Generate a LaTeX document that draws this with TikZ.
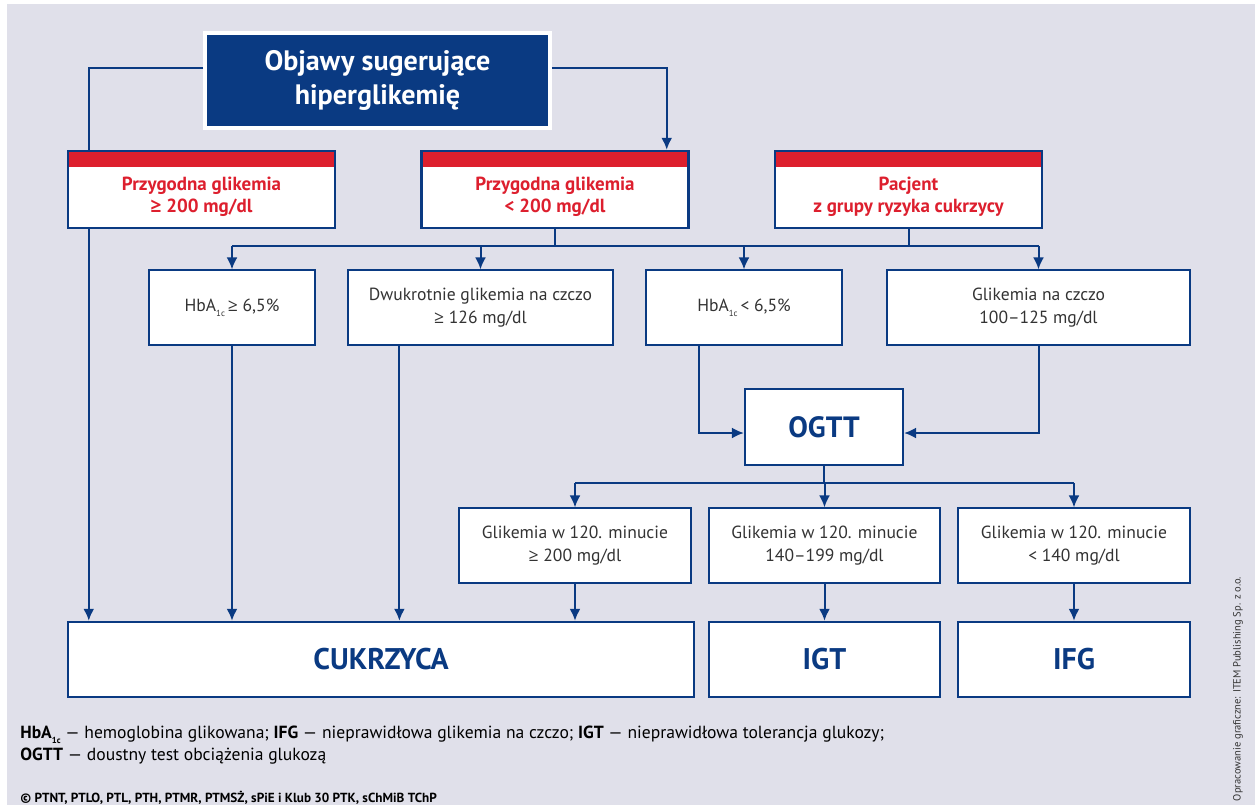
\documentclass[tikz,border=0pt]{standalone}
\usepackage{fontspec}
\setmainfont{PT Sans}
\newfontfamily\symfont{Open Sans}
\usepackage{tikz}
\usetikzlibrary{positioning}
\usetikzlibrary{arrows.meta}
\definecolor{navy}{HTML}{0A3A82}
\definecolor{alarm}{HTML}{DD1F2E}
\definecolor{panel}{HTML}{E0E0EA}
\definecolor{ink}{HTML}{333333}
\newcommand{\hba}{HbA\raisebox{-0.6ex}{\fontsize{5}{5}\selectfont 1c}}
\newcommand{\gesym}{{\symfont ≥}}
\tikzstyle{title} = [rectangle, fill=navy, draw=white, line width=0.08cm, minimum width=6.9cm, minimum height=1.9cm, text=white, align=center, font=\fontsize{16}{19.5}\selectfont\bfseries]
\tikzstyle{entry} = [rectangle, fill=white, draw=navy, line width=0.05cm, minimum width=5.34cm, minimum height=1.54cm, path picture={\fill[alarm] (path picture bounding box.north west) rectangle ([yshift=-0.32cm]path picture bounding box.north east);}]
\tikzstyle{entrytext} = [text=alarm, align=center, font=\fontsize{10.8}{12.8}\selectfont\bfseries]
\tikzstyle{test} = [rectangle, fill=white, draw=navy, line width=0.025cm, minimum height=1.5cm, text=ink, align=center, font=\fontsize{10}{12.8}\selectfont]
\tikzstyle{ogtt} = [rectangle, fill=white, draw=navy, line width=0.045cm, minimum width=3.16cm, minimum height=1.52cm, text=navy, font=\fontsize{16.7}{19}\selectfont\bfseries]
\tikzstyle{result} = [rectangle, fill=white, draw=navy, line width=0.05cm, minimum height=1.5cm, text=navy, font=\fontsize{17}{19}\selectfont\bfseries]
\tikzstyle{legend} = [anchor=west, inner sep=0pt, text=black, font=\fontsize{10}{12}\selectfont]
\tikzstyle{conn} = [navy, line width=0.04cm]
\tikzstyle{arr} = [conn, -{Latex[length=0.24cm,width=0.22cm]}]

\begin{document}
\begin{tikzpicture}[x=0.02cm, y=-0.02cm]
	\useasboundingbox (0,0) rectangle (1255,805);
	\fill [panel] (7,4) rectangle (1255,805);

	\node (title) at (377.5,80.5) [title] {Objawy sugerujące\\hiperglikemię};

	\node (p1) at (201.5,189.5) [entry] {};
	\node (p1txt) at ([yshift=-0.15cm]p1.center) [entrytext] {Przygodna glikemia\\\gesym{} 200 mg/dl};
	\node (p2) at (555,189.5) [entry] {};
	\node (p2txt) at ([yshift=-0.15cm]p2.center) [entrytext] {Przygodna glikemia\\< 200 mg/dl};
	\node (p3) at (908.5,189.5) [entry] {};
	\node (p3txt) at ([yshift=-0.15cm]p3.center) [entrytext] {Pacjent\\z grupy ryzyka cukrzycy};

	\draw [conn] ([yshift=0.25cm]title.west) -| ([xshift=0.44cm]p1.north west);
	\draw [arr] ([yshift=0.25cm]title.east) -| ([xshift=-0.46cm]p2.north east);

	\node (h1) at (232,307.5) [test, minimum width=3.32cm] {\hba\,\gesym{} 6,5\%};
	\node (h2) at (480.5,307.5) [test, minimum width=5.3cm] {Dwukrotnie glikemia na czczo\\\gesym{} 126 mg/dl};
	\node (h3) at (744,307.5) [test, minimum width=3.92cm] {\hba\,< 6,5\%};
	\node (h4) at (1038.5,307.5) [test, minimum width=6.06cm] {Glikemia na czczo\\100–125 mg/dl};

	\coordinate (bus1) at (555,246);
	\draw [conn] (p2.south) -- (bus1);
	\draw [conn] (p3.south) -- (p3.south |- bus1);
	\draw [conn] (h1.north |- bus1) -- (h4.north |- bus1);
	\draw [arr] (h1.north |- bus1) -- (h1.north);
	\draw [arr] (h2.north |- bus1) -- (h2.north);
	\draw [arr] (h3.north |- bus1) -- (h3.north);
	\draw [arr] (h4.north |- bus1) -- (h4.north);

	\node (ogtt) at (824,427) [ogtt] {OGTT};
	\draw [arr] ([xshift=1.08cm]h3.south west) |- ([yshift=-0.12cm]ogtt.west);
	\draw [arr] (h4.south) |- ([yshift=-0.12cm]ogtt.east);

	\node (r1) at (575,545.5) [test, minimum width=4.64cm] {Glikemia w 120. minucie\\\gesym{} 200 mg/dl};
	\node (r2) at (824.5,545.5) [test, minimum width=4.62cm] {Glikemia w 120. minucie\\140–199 mg/dl};
	\node (r3) at (1074,545.5) [test, minimum width=4.64cm] {Glikemia w 120. minucie\\< 140 mg/dl};

	\coordinate (bus2) at (824,483);
	\draw [conn] (ogtt.south) -- (bus2);
	\draw [conn] (r1.north |- bus2) -- (r3.north |- bus2);
	\draw [arr] (r1.north |- bus2) -- (r1.north);
	\draw [arr] (r2.north |- bus2) -- (r2.north);
	\draw [arr] (r3.north |- bus2) -- (r3.north);

	\node (cuk) at (381,659.5) [result, minimum width=12.52cm] {CUKRZYCA};
	\node (igt) at (824.5,659.5) [result, minimum width=4.62cm] {IGT};
	\node (ifg) at (1074,659.5) [result, minimum width=4.64cm] {IFG};

	\draw [arr] ([xshift=0.44cm]p1.south west) -- ([xshift=0.44cm]p1.south west |- cuk.north);
	\draw [arr] (h1.south) -- (h1.south |- cuk.north);
	\draw [arr] ([xshift=1.04cm]h2.south west) -- ([xshift=1.04cm]h2.south west |- cuk.north);
	\draw [arr] (r1.south) -- (r1.south |- cuk.north);
	\draw [arr] (r2.south) -- (igt.north);
	\draw [arr] (r3.south) -- (ifg.north);

	\node (leg1) at (20,735) [legend] {\textbf{\hba} — hemoglobina glikowana; \textbf{IFG} — nieprawidłowa glikemia na czczo; \textbf{IGT} — nieprawidłowa tolerancja glukozy;};
	\node (leg2) at (20,756) [legend] {\textbf{OGTT} — doustny test obciążenia glukozą};
	\node (copy) at (20,798) [legend, font=\fontsize{7.5}{9}\selectfont\bfseries] {© PTNT, PTLO, PTL, PTH, PTMR, PTMSŻ, sPiE i Klub 30 PTK, sChMiB TChP};
	\node (credit) at (1238,689) [rotate=90, inner sep=0pt, text=ink, font=\fontsize{6}{7}\selectfont] {Opracowanie graficzne: ITEM Publishing Sp. z o.o.};

\end{tikzpicture}
\end{document}
